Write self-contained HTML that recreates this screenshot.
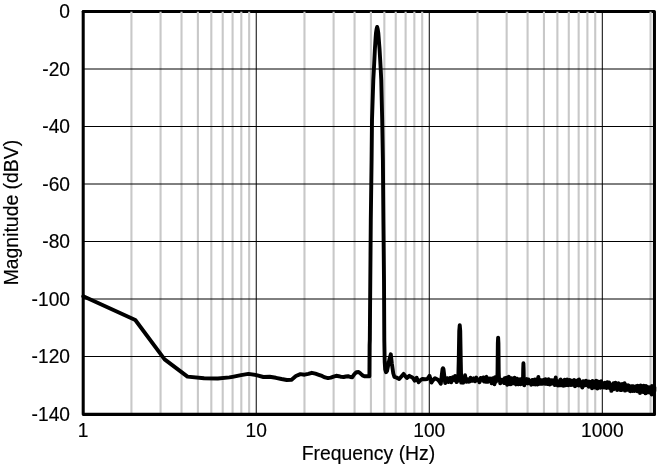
<!DOCTYPE html>
<html><head><meta charset="utf-8"><title>Magnitude vs Frequency</title>
<style>html,body{margin:0;padding:0;background:#fff;}body{width:657px;height:465px;overflow:hidden;}svg{display:block;}text{font-family:"Liberation Sans",sans-serif;font-size:19.4px;fill:#000;stroke:#000;stroke-width:0.16px;}</style></head><body>
<svg width="657" height="465" viewBox="0 0 657 465">
<rect x="0" y="0" width="657" height="465" fill="#fff"/>
<path d="M83.2 11.5H654.45V414.35" fill="none" stroke="#000" stroke-width="3.05" stroke-linejoin="round" stroke-linecap="round"/>
<path d="M131.43 11.70V414.00M160.57 11.70V414.00M181.52 11.70V414.00M197.88 11.70V414.00M211.31 11.70V414.00M222.70 11.70V414.00M232.59 11.70V414.00M241.32 11.70V414.00M249.15 11.70V414.00M304.47 11.70V414.00M333.61 11.70V414.00M354.56 11.70V414.00M370.92 11.70V414.00M384.35 11.70V414.00M395.74 11.70V414.00M405.62 11.70V414.00M414.36 11.70V414.00M422.19 11.70V414.00M477.51 11.70V414.00M506.65 11.70V414.00M527.59 11.70V414.00M543.96 11.70V414.00M557.38 11.70V414.00M568.77 11.70V414.00M578.66 11.70V414.00M587.40 11.70V414.00M595.22 11.70V414.00M650.55 11.70V414.00" stroke="#c8c8c8" stroke-width="2.1" fill="none"/>
<path d="M256.24 11.50V414.00M429.27 11.50V414.00M602.31 11.50V414.00M83.20 69.00H654.40M83.20 126.50H654.40M83.20 184.00H654.40M83.20 241.50H654.40M83.20 299.00H654.40M83.20 356.50H654.40" stroke="#000" stroke-width="1" fill="none"/>
<path d="M83.2 11.5V414.35H654.45" fill="none" stroke="#000" stroke-width="3.05" stroke-linejoin="round" stroke-linecap="round"/>
<path d="M83.30 296.30 L135.30 320.00 L164.60 359.40 L187.50 376.60 L204.10 378.30 L217.80 378.50 L229.40 377.40 L232.50 376.80 L241.00 375.10 L248.40 373.90 L256.40 375.10 L263.40 377.00 L269.70 376.80 L275.90 377.80 L281.50 379.00 L286.80 380.00 L291.30 379.90 L295.90 376.00 L300.40 374.10 L304.60 374.70 L308.30 373.90 L311.80 372.80 L315.40 373.70 L318.80 374.80 L322.00 375.90 L325.00 377.40 L328.00 378.10 L330.80 377.60 L333.60 376.60 L336.20 375.80 L338.80 376.20 L341.20 376.90 L343.60 377.00 L345.90 376.50 L348.10 376.20 L350.30 377.00 L352.30 377.20 L354.40 374.20 L356.40 372.20 L358.60 372.00 L360.60 373.60 L362.50 375.40 L364.30 376.20 L367.00 376.30 L369.40 376.20 L369.60 345.00 L369.80 340.00 L370.30 280.00 L370.80 220.00 L371.60 160.00 L372.00 120.00 L373.30 80.00 L373.85 70.00 L374.35 60.00 L374.90 49.00 L375.25 43.50 L375.60 38.00 L376.00 33.00 L376.55 29.30 L377.15 27.00 L377.75 29.30 L378.30 33.00 L378.70 38.00 L379.10 43.50 L379.55 49.00 L380.20 60.00 L380.75 70.00 L381.25 80.00 L382.20 120.00 L382.90 160.00 L383.40 220.00 L384.00 280.00 L384.30 340.00 L384.70 362.00 L385.20 369.50 L386.00 372.20 L387.00 371.00 L389.60 358.50 L390.80 354.30 L391.90 364.00 L393.30 373.50 L394.40 376.80 L396.80 377.70 L399.20 379.00 L401.40 376.50 L403.60 373.90 L405.30 376.20 L406.90 378.00 L409.40 375.80 L411.00 376.80 L412.70 377.70 L414.70 380.70 L416.60 377.70 L418.60 382.10 L420.50 380.20 L422.40 379.00 L424.80 379.30 L427.30 379.00 L429.50 375.80 L431.40 382.60 L433.20 380.00 L435.00 378.20 L437.90 379.70 L439.40 381.50 L440.80 383.80 L441.70 376.00 L442.50 369.20 L443.00 368.30 L443.50 369.20 L444.30 376.00 L445.20 383.10 L446.60 380.50 L448.10 378.70 L446.04 381.70 L446.64 379.72 L447.24 378.15 L447.83 380.11 L448.41 382.02 L448.99 380.57 L449.57 379.27 L450.14 377.90 L450.70 381.20 L451.27 382.33 L451.83 379.47 L452.38 378.99 L452.93 377.17 L453.48 377.51 L454.02 379.35 L454.56 380.19 L455.09 375.91 L455.63 379.20 L456.15 380.98 L456.68 382.08 L457.20 380.46 L457.71 379.90 L458.23 380.52 L458.74 359.70 L459.24 330.95 L459.74 325.20 L460.24 330.95 L460.74 359.70 L461.23 382.61 L461.72 379.73 L462.21 382.23 L462.69 381.01 L463.17 382.71 L463.65 380.90 L464.12 381.59 L464.59 380.24 L465.06 375.26 L465.53 378.77 L465.99 378.43 L466.45 381.74 L466.91 381.11 L467.36 379.43 L467.81 380.13 L468.26 379.61 L468.71 379.89 L469.15 381.72 L469.59 379.81 L470.03 381.40 L470.46 377.68 L470.90 380.29 L471.33 379.22 L471.76 379.97 L472.18 378.72 L472.61 380.78 L473.03 378.90 L473.45 380.10 L473.86 378.30 L474.28 378.77 L474.69 379.67 L475.10 381.38 L475.50 379.49 L475.91 379.39 L476.31 377.54 L476.71 380.14 L477.11 379.47 L477.51 379.35 L477.90 379.67 L478.30 379.89 L478.69 380.00 L479.07 381.25 L479.46 382.28 L479.84 381.63 L480.23 379.92 L480.61 377.98 L480.99 378.24 L481.36 378.20 L481.74 378.62 L482.11 378.88 L482.48 379.75 L482.85 379.11 L483.22 377.38 L483.58 380.11 L483.95 381.50 L484.31 377.83 L484.67 379.37 L485.03 378.72 L485.39 378.69 L485.74 381.77 L486.10 377.21 L486.45 376.86 L486.80 379.22 L487.15 379.05 L487.49 379.96 L487.84 381.79 L488.18 381.16 L488.53 380.23 L488.87 378.82 L489.21 379.02 L489.54 380.09 L489.88 378.42 L490.21 381.17 L490.55 379.62 L490.88 378.67 L491.21 380.54 L491.54 383.40 L491.87 382.91 L492.19 381.02 L492.52 380.01 L492.84 378.15 L493.16 381.50 L493.48 380.97 L493.80 379.83 L494.12 380.72 L494.44 384.36 L494.75 380.62 L495.06 377.21 L495.38 378.18 L495.69 381.40 L496.00 381.61 L496.31 380.71 L496.61 376.99 L496.92 378.73 L497.22 380.02 L497.53 372.10 L497.83 343.35 L498.13 337.60 L498.43 343.35 L498.73 372.10 L499.03 379.99 L499.32 378.44 L499.62 379.15 L499.91 379.90 L500.21 383.34 L500.50 382.70 L500.79 382.36 L501.08 382.14 L501.37 380.39 L501.66 381.26 L501.94 379.82 L502.23 380.46 L502.51 381.29 L502.79 380.86 L503.08 380.26 L503.36 379.44 L503.64 381.21 L503.92 381.38 L504.19 383.14 L504.47 379.20 L504.75 378.25 L505.02 380.42 L505.29 381.53 L505.57 383.00 L505.84 381.34 L506.11 380.79 L506.38 377.66 L506.65 379.63 L506.92 381.76 L507.18 384.91 L507.45 380.07 L507.71 380.45 L507.98 383.27 L508.24 381.43 L508.50 383.57 L508.77 376.59 L509.03 378.03 L509.29 379.29 L509.54 380.79 L509.80 384.18 L510.06 382.19 L510.32 383.73 L510.57 380.98 L510.82 384.25 L511.08 383.39 L511.33 379.96 L511.58 378.30 L511.83 382.03 L512.08 383.67 L512.33 380.57 L512.58 379.68 L512.83 382.16 L513.08 382.47 L513.32 382.57 L513.57 383.34 L513.81 382.81 L514.05 379.78 L514.30 379.71 L514.54 377.66 L514.78 380.24 L515.02 381.09 L515.26 382.60 L515.50 381.79 L515.74 383.31 L515.98 384.46 L516.21 381.13 L516.45 379.04 L516.68 379.31 L516.92 378.66 L517.15 380.07 L517.38 381.93 L517.62 381.30 L517.85 381.80 L518.08 383.04 L518.31 384.28 L518.54 384.34 L518.77 382.18 L519.00 381.30 L519.22 381.96 L519.45 379.35 L519.68 380.42 L519.90 380.15 L520.13 379.13 L520.35 381.84 L520.57 384.35 L520.80 381.09 L521.02 382.24 L521.24 379.64 L521.46 380.30 L521.68 379.51 L521.90 379.63 L522.12 383.87 L522.34 381.01 L522.55 382.21 L522.77 382.70 L522.99 382.37 L523.20 369.05 L523.42 363.30 L523.63 369.05 L523.85 383.19 L524.06 382.76 L524.27 385.26 L524.48 382.67 L524.70 380.87 L524.91 382.33 L525.12 381.29 L525.33 381.00 L525.53 379.78 L525.74 382.10 L525.95 382.81 L526.16 382.93 L526.37 379.28 L526.57 379.16 L526.78 380.90 L526.98 380.92 L527.19 381.09 L527.39 381.01 L527.59 381.59 L527.80 381.96 L528.00 383.42 L528.20 382.96 L528.40 379.47 L528.60 380.06 L528.80 380.92 L529.00 381.60 L529.20 381.39 L529.40 380.91 L529.60 382.23 L529.80 381.40 L529.99 381.09 L530.19 382.44 L530.38 382.91 L530.58 383.35 L530.78 383.59 L530.97 380.81 L531.16 384.72 L531.36 382.84 L531.55 382.78 L531.74 382.78 L531.93 381.74 L532.13 379.93 L532.32 380.92 L532.51 381.53 L532.70 382.40 L532.89 381.97 L533.08 380.32 L533.26 381.74 L533.45 383.26 L533.64 383.89 L533.83 383.86 L534.01 384.26 L534.20 380.77 L534.39 380.81 L534.57 381.69 L534.76 379.49 L534.94 381.91 L535.12 380.60 L535.31 380.14 L535.49 383.41 L535.67 384.41 L535.86 383.80 L536.04 380.97 L536.22 379.56 L536.40 382.80 L536.58 380.48 L536.76 381.86 L536.94 382.29 L537.12 382.66 L537.30 382.44 L537.48 384.54 L537.65 383.99 L537.83 384.17 L538.01 381.74 L538.18 378.70 L538.36 376.87 L538.54 380.75 L538.71 383.93 L538.89 382.98 L539.06 383.47 L539.24 379.41 L539.41 380.23 L539.58 382.36 L539.76 380.60 L539.93 380.65 L540.10 383.79 L540.27 383.16 L540.44 382.55 L540.61 382.00 L540.79 381.68 L540.96 382.27 L541.13 381.69 L541.29 382.63 L541.46 383.37 L541.63 380.12 L541.80 380.82 L541.97 380.92 L542.14 383.87 L542.30 382.71 L542.47 380.95 L542.64 383.46 L542.80 380.78 L542.97 382.12 L543.13 381.39 L543.30 381.95 L543.46 381.61 L543.63 380.10 L543.79 381.96 L543.96 379.70 L544.12 382.39 L544.28 383.42 L544.44 381.37 L544.61 383.31 L544.77 382.90 L544.93 380.95 L545.09 379.94 L545.25 383.91 L545.41 381.84 L545.57 379.26 L545.73 379.47 L545.89 381.59 L546.05 382.75 L546.21 382.67 L546.37 383.87 L546.52 382.96 L546.68 382.59 L546.84 382.42 L547.00 380.47 L547.15 381.91 L547.31 384.10 L547.47 381.18 L547.62 383.34 L547.78 383.10 L547.93 382.58 L548.09 382.73 L548.24 383.72 L548.40 382.95 L548.55 379.25 L548.70 382.12 L548.86 382.32 L549.01 380.59 L549.16 380.61 L549.31 380.60 L549.47 380.46 L549.62 384.45 L549.77 384.08 L549.92 382.56 L550.07 381.58 L550.22 380.16 L550.37 380.91 L550.52 382.14 L550.67 382.12 L550.82 382.48 L550.97 381.94 L551.12 381.17 L551.27 382.39 L551.41 383.43 L551.56 383.81 L551.71 381.15 L551.86 380.09 L552.00 380.19 L552.15 380.42 L552.30 380.52 L552.44 381.75 L552.59 381.17 L552.73 383.44 L552.88 382.92 L553.02 383.52 L553.17 381.63 L553.31 382.92 L553.46 382.64 L553.60 381.84 L553.74 380.25 L553.89 382.82 L554.03 383.81 L554.17 381.62 L554.32 383.69 L554.46 382.11 L554.60 383.08 L554.74 382.72 L554.88 385.04 L555.02 382.16 L555.17 383.01 L555.31 383.84 L555.45 379.88 L555.59 380.63 L555.73 377.50 L555.87 380.35 L556.00 382.28 L556.14 382.22 L556.28 380.09 L556.42 381.76 L556.56 381.59 L556.70 381.45 L556.84 383.42 L556.97 382.55 L557.11 383.19 L557.25 384.43 L557.38 381.82 L557.52 381.33 L557.66 382.02 L557.79 383.62 L557.93 385.65 L558.06 382.75 L558.20 382.70 L558.33 384.93 L558.47 383.31 L558.60 384.89 L558.74 383.26 L558.87 382.54 L559.01 382.02 L559.14 382.07 L559.27 382.15 L559.41 384.02 L559.54 383.52 L559.67 383.56 L559.80 383.18 L559.94 382.36 L560.07 381.63 L560.20 379.99 L560.33 385.41 L560.46 382.86 L560.59 382.94 L560.72 379.50 L560.85 380.35 L560.99 384.24 L561.12 382.53 L561.25 383.31 L561.38 381.43 L561.50 383.74 L561.63 383.10 L561.76 382.95 L561.89 382.86 L562.02 383.52 L562.15 385.48 L562.28 382.85 L562.40 381.31 L562.53 382.35 L562.66 383.99 L562.79 382.78 L562.91 381.91 L563.04 382.69 L563.17 382.70 L563.29 380.72 L563.42 383.66 L563.55 383.77 L563.67 385.69 L563.80 384.58 L563.92 384.30 L564.05 384.53 L564.17 384.23 L564.30 380.66 L564.42 382.38 L564.55 382.79 L564.67 379.68 L564.79 381.91 L564.92 384.92 L565.04 382.84 L565.16 384.09 L565.29 380.87 L565.41 383.94 L565.53 383.93 L565.66 385.36 L565.78 383.42 L565.90 384.39 L566.02 383.36 L566.14 383.49 L566.27 383.86 L566.39 381.81 L566.51 381.20 L566.63 382.24 L566.75 383.90 L566.87 384.64 L566.99 383.00 L567.11 379.55 L567.23 382.49 L567.35 383.83 L567.47 384.11 L567.59 384.75 L567.71 384.78 L567.83 383.72 L567.95 381.13 L568.06 382.35 L568.18 383.43 L568.30 385.29 L568.42 383.31 L568.54 383.05 L568.66 384.65 L568.77 384.93 L568.89 383.57 L569.01 381.70 L569.12 381.68 L569.24 382.26 L569.36 383.17 L569.47 382.55 L569.59 382.83 L569.71 379.89 L569.82 383.59 L569.94 383.65 L570.05 381.40 L570.17 382.85 L570.28 380.95 L570.40 382.42 L570.51 382.60 L570.63 383.37 L570.74 385.01 L570.86 384.93 L570.97 380.50 L571.09 381.35 L571.20 381.66 L571.31 381.27 L571.43 381.69 L571.54 381.20 L571.65 382.83 L571.77 383.27 L571.88 381.73 L571.99 383.12 L572.10 384.90 L572.22 383.90 L572.33 384.05 L572.44 382.49 L572.55 383.88 L572.66 384.76 L572.77 384.03 L572.89 381.20 L573.00 382.57 L573.11 382.69 L573.22 382.94 L573.33 382.63 L573.44 381.66 L573.55 380.73 L573.66 384.65 L573.77 381.68 L573.88 382.68 L573.99 383.42 L574.10 379.89 L574.21 382.38 L574.32 380.21 L574.43 380.91 L574.53 383.88 L574.64 382.68 L574.75 381.98 L574.86 382.96 L574.97 386.29 L575.08 384.56 L575.18 383.83 L575.29 384.88 L575.40 381.16 L575.51 382.89 L575.61 383.62 L575.72 383.72 L575.83 384.41 L575.94 384.62 L576.04 383.48 L576.15 382.84 L576.25 383.78 L576.36 383.49 L576.47 385.20 L576.57 383.08 L576.68 384.20 L576.78 383.21 L576.89 384.46 L577.00 384.30 L577.10 383.25 L577.21 384.90 L577.31 380.33 L577.41 382.41 L577.52 383.09 L577.62 384.20 L577.73 381.34 L577.83 380.77 L577.94 382.10 L578.04 384.79 L578.14 384.41 L578.25 382.76 L578.35 383.82 L578.45 385.06 L578.56 385.44 L578.66 384.99 L578.76 383.78 L578.87 384.33 L578.97 383.58 L579.07 379.55 L579.17 379.74 L579.28 383.66 L579.38 382.94 L579.48 383.08 L579.58 383.44 L579.68 381.93 L579.78 383.36 L579.89 383.78 L579.99 383.98 L580.09 383.67 L580.19 381.68 L580.29 381.78 L580.39 384.71 L580.49 384.37 L580.59 384.75 L580.69 382.66 L580.79 382.84 L580.89 381.99 L580.99 383.04 L581.09 385.89 L581.19 383.51 L581.29 383.11 L581.39 382.61 L581.49 384.94 L581.59 383.75 L581.69 384.44 L581.79 384.65 L581.88 383.30 L581.98 382.89 L582.08 384.48 L582.18 386.07 L582.28 387.60 L582.38 385.46 L582.47 382.51 L582.57 383.23 L582.67 386.45 L582.77 385.52 L582.86 383.49 L582.96 381.18 L583.06 381.18 L583.16 382.27 L583.25 382.83 L583.35 384.72 L583.45 384.46 L583.54 384.22 L583.64 384.75 L583.74 383.77 L583.83 384.10 L583.93 383.21 L584.02 381.45 L584.12 381.87 L584.21 382.44 L584.31 383.51 L584.41 385.58 L584.50 384.28 L584.60 383.00 L584.69 384.73 L584.79 382.18 L584.88 383.57 L584.98 383.03 L585.07 383.83 L585.17 385.34 L585.26 381.27 L585.35 384.45 L585.45 382.58 L585.54 384.03 L585.64 383.34 L585.73 384.61 L585.82 384.47 L585.92 382.61 L586.01 380.67 L586.10 383.88 L586.20 383.69 L586.29 382.36 L586.38 384.12 L586.48 382.82 L586.57 384.47 L586.66 383.09 L586.75 382.90 L586.85 381.80 L586.94 382.63 L587.03 385.00 L587.12 383.19 L587.21 385.05 L587.31 383.10 L587.40 381.49 L587.49 382.25 L587.58 384.05 L587.67 382.22 L587.76 383.07 L587.85 385.24 L587.95 384.69 L588.04 382.13 L588.13 383.70 L588.22 383.60 L588.31 384.21 L588.40 386.21 L588.49 385.23 L588.58 383.76 L588.67 383.53 L588.76 383.98 L588.85 386.78 L588.94 383.08 L589.03 382.65 L589.12 382.12 L589.21 381.59 L589.30 383.80 L589.39 384.68 L589.48 383.71 L589.57 381.58 L589.65 385.49 L589.74 384.70 L589.83 385.13 L589.92 383.54 L590.01 381.84 L590.10 383.72 L590.19 385.56 L590.27 384.38 L590.36 384.48 L590.45 386.22 L590.54 383.46 L590.63 384.54 L590.71 383.24 L590.80 385.56 L590.89 383.00 L590.98 385.66 L591.06 383.10 L591.15 386.20 L591.24 382.83 L591.33 384.19 L591.41 386.20 L591.50 385.02 L591.59 383.90 L591.67 385.36 L591.76 385.14 L591.85 384.05 L591.93 384.31 L592.02 388.30 L592.10 385.95 L592.19 384.10 L592.28 383.72 L592.36 382.65 L592.45 384.63 L592.53 380.86 L592.62 382.09 L592.70 383.12 L592.79 382.40 L592.87 382.36 L592.96 383.50 L593.04 384.82 L593.13 383.01 L593.21 383.28 L593.30 386.48 L593.38 386.39 L593.47 384.25 L593.55 384.10 L593.64 383.82 L593.72 383.26 L593.81 383.76 L593.89 381.99 L593.97 384.38 L594.06 384.85 L594.14 384.02 L594.23 383.21 L594.31 382.91 L594.39 381.89 L594.48 384.23 L594.56 382.73 L594.64 383.22 L594.73 385.40 L594.81 384.84 L594.89 381.70 L594.98 382.50 L595.06 384.44 L595.14 387.61 L595.22 386.33 L595.31 385.91 L595.39 384.74 L595.47 381.40 L595.55 382.50 L595.64 383.42 L595.72 385.37 L595.80 386.30 L595.88 385.27 L595.96 385.31 L596.04 380.67 L596.13 383.86 L596.21 385.10 L596.29 383.14 L596.37 383.97 L596.45 385.98 L596.53 383.21 L596.61 384.52 L596.70 386.29 L596.78 384.61 L596.86 383.89 L596.94 384.78 L597.02 383.67 L597.10 383.17 L597.18 385.31 L597.26 387.53 L597.34 388.65 L597.42 385.96 L597.50 383.34 L597.58 382.86 L597.66 382.20 L597.74 381.39 L597.82 383.61 L597.90 382.89 L597.98 386.14 L598.06 384.15 L598.14 383.95 L598.22 384.55 L598.30 385.20 L598.38 386.30 L598.46 384.95 L598.54 383.03 L598.61 384.66 L598.69 383.95 L598.77 385.34 L598.85 384.54 L598.93 385.99 L599.01 384.57 L599.09 384.95 L599.16 384.36 L599.24 385.41 L599.32 386.50 L599.40 385.69 L599.48 383.64 L599.56 382.30 L599.63 384.44 L599.71 383.59 L599.79 383.39 L599.87 383.83 L599.94 386.56 L600.02 384.88 L600.10 386.10 L600.18 383.61 L600.25 383.39 L600.33 383.55 L600.41 387.81 L600.49 384.88 L600.56 383.91 L600.64 386.25 L600.72 383.97 L600.79 384.48 L600.87 384.98 L600.95 385.84 L601.02 386.51 L601.10 385.94 L601.17 381.08 L601.25 383.47 L601.33 384.18 L601.40 385.54 L601.48 385.91 L601.56 385.94 L601.63 386.40 L601.71 384.19 L601.78 385.06 L601.86 383.82 L601.93 386.14 L602.01 384.06 L602.08 384.72 L602.16 383.99 L602.24 384.81 L602.31 386.10 L602.39 383.70 L602.46 385.18 L602.54 385.24 L602.61 386.25 L602.69 385.11 L602.76 385.56 L602.83 384.81 L602.91 384.51 L602.98 385.80 L603.06 387.15 L603.13 385.11 L603.21 383.86 L603.28 383.79 L603.36 386.22 L603.43 384.63 L603.50 384.45 L603.58 384.54 L603.65 384.37 L603.73 385.33 L603.80 384.91 L603.87 383.84 L603.95 385.43 L604.02 387.15 L604.09 385.90 L604.17 385.14 L604.24 387.62 L604.31 386.82 L604.39 384.91 L604.46 385.32 L604.53 385.13 L604.60 386.87 L604.68 384.52 L604.75 382.70 L604.82 384.75 L604.90 386.08 L604.97 387.05 L605.04 384.63 L605.11 384.95 L605.19 386.24 L605.26 383.98 L605.33 383.90 L605.40 384.09 L605.47 387.29 L605.55 386.06 L605.62 384.73 L605.69 386.79 L605.76 384.56 L605.83 383.23 L605.91 383.37 L605.98 385.73 L606.05 386.43 L606.12 384.46 L606.19 383.81 L606.26 383.31 L606.33 383.20 L606.41 384.90 L606.48 385.82 L606.55 388.01 L606.62 385.19 L606.69 382.37 L606.76 385.16 L606.83 386.01 L606.90 384.79 L606.97 384.79 L607.04 387.10 L607.11 386.93 L607.18 387.40 L607.25 383.42 L607.32 385.85 L607.40 384.51 L607.47 382.71 L607.54 382.21 L607.61 382.68 L607.68 382.56 L607.75 386.31 L607.82 386.27 L607.89 386.76 L607.95 386.34 L608.02 382.38 L608.09 386.87 L608.16 385.27 L608.23 387.16 L608.30 384.34 L608.37 383.55 L608.44 385.71 L608.51 382.95 L608.58 384.76 L608.65 383.69 L608.72 384.69 L608.79 386.14 L608.86 386.34 L608.92 386.06 L608.99 385.02 L609.06 385.35 L609.13 382.52 L609.20 385.04 L609.27 386.16 L609.34 386.83 L609.40 387.12 L609.47 388.08 L609.54 387.78 L609.61 385.20 L609.68 385.55 L609.75 385.96 L609.81 385.40 L609.88 384.30 L609.95 384.57 L610.02 384.44 L610.09 386.17 L610.15 386.30 L610.22 387.02 L610.29 386.35 L610.36 387.10 L610.42 386.74 L610.49 386.38 L610.56 386.33 L610.63 386.39 L610.69 386.71 L610.76 384.44 L610.83 385.94 L610.89 387.27 L610.96 386.10 L611.03 387.43 L611.10 387.82 L611.16 386.42 L611.23 388.30 L611.30 390.88 L611.36 387.08 L611.43 384.97 L611.50 387.90 L611.56 387.76 L611.63 385.79 L611.69 388.57 L611.76 387.95 L611.83 388.20 L611.89 386.96 L611.96 388.93 L612.03 385.76 L612.09 386.17 L612.16 385.72 L612.22 386.41 L612.29 388.98 L612.35 387.17 L612.42 388.19 L612.49 386.73 L612.55 387.43 L612.62 386.95 L612.68 386.67 L612.75 385.30 L612.81 384.90 L612.88 387.11 L612.94 386.48 L613.01 384.36 L613.07 385.00 L613.14 386.80 L613.20 386.54 L613.27 386.77 L613.33 385.16 L613.40 385.87 L613.46 385.64 L613.53 383.17 L613.59 387.13 L613.66 387.85 L613.72 389.01 L613.79 389.18 L613.85 386.03 L613.92 385.83 L613.98 384.02 L614.05 388.21 L614.11 388.03 L614.17 384.95 L614.24 384.57 L614.30 384.65 L614.37 384.69 L614.43 385.81 L614.49 386.21 L614.56 386.28 L614.62 385.24 L614.69 386.25 L614.75 385.93 L614.81 384.35 L614.88 387.26 L614.94 387.64 L615.00 386.05 L615.07 386.65 L615.13 386.70 L615.19 383.78 L615.26 385.10 L615.32 386.59 L615.38 385.06 L615.45 382.76 L615.51 386.81 L615.57 387.45 L615.64 386.63 L615.70 387.36 L615.76 383.93 L615.82 385.05 L615.89 386.60 L615.95 385.90 L616.01 387.38 L616.07 387.58 L616.14 386.72 L616.20 383.49 L616.26 388.57 L616.32 386.62 L616.39 384.83 L616.45 385.09 L616.51 383.63 L616.57 385.12 L616.64 385.97 L616.70 386.59 L616.76 387.72 L616.82 384.82 L616.88 387.63 L616.95 387.10 L617.01 387.46 L617.07 387.92 L617.13 389.93 L617.19 388.14 L617.25 386.94 L617.32 386.57 L617.38 385.55 L617.44 386.56 L617.50 387.49 L617.56 386.54 L617.62 385.80 L617.68 387.62 L617.75 388.97 L617.81 388.74 L617.87 385.97 L617.93 385.21 L617.99 387.45 L618.05 386.82 L618.11 385.69 L618.17 384.72 L618.23 387.02 L618.29 387.17 L618.35 385.08 L618.42 383.15 L618.48 383.72 L618.54 387.37 L618.60 386.41 L618.66 387.09 L618.72 386.99 L618.78 387.75 L618.84 387.75 L618.90 387.14 L618.96 384.61 L619.02 385.28 L619.08 385.85 L619.14 386.54 L619.20 387.76 L619.26 387.46 L619.32 385.46 L619.38 385.40 L619.44 383.91 L619.50 385.69 L619.56 386.59 L619.62 388.94 L619.68 387.03 L619.74 389.22 L619.80 385.66 L619.86 387.39 L619.92 387.10 L619.98 388.77 L620.04 388.17 L620.09 388.56 L620.15 386.00 L620.21 386.39 L620.27 388.36 L620.33 389.93 L620.39 387.99 L620.45 387.95 L620.51 388.76 L620.57 386.80 L620.63 387.22 L620.69 386.97 L620.74 387.81 L620.80 388.04 L620.86 387.97 L620.92 389.43 L620.98 386.98 L621.04 386.55 L621.10 389.17 L621.15 387.60 L621.21 385.77 L621.27 386.42 L621.33 385.24 L621.39 386.92 L621.45 387.08 L621.51 388.82 L621.56 388.83 L621.62 390.03 L621.68 389.19 L621.74 387.47 L621.80 386.60 L621.85 385.51 L621.91 386.53 L621.97 388.29 L622.03 386.98 L622.08 387.34 L622.14 384.95 L622.20 384.02 L622.26 385.03 L622.32 388.06 L622.37 388.18 L622.43 387.29 L622.49 388.20 L622.55 386.88 L622.60 386.27 L622.66 385.90 L622.72 386.58 L622.77 388.23 L622.83 388.67 L622.89 387.88 L622.95 385.77 L623.00 384.83 L623.06 385.32 L623.12 386.27 L623.17 386.15 L623.23 385.93 L623.29 385.26 L623.35 385.63 L623.40 388.83 L623.46 386.59 L623.52 386.65 L623.57 387.76 L623.63 386.83 L623.69 386.86 L623.74 387.32 L623.80 389.57 L623.85 387.93 L623.91 386.86 L623.97 387.33 L624.02 389.46 L624.08 387.46 L624.14 386.53 L624.19 386.95 L624.25 386.77 L624.30 387.72 L624.36 388.40 L624.42 387.09 L624.47 387.83 L624.53 387.37 L624.58 383.27 L624.64 385.32 L624.70 386.69 L624.75 389.37 L624.81 387.96 L624.86 386.69 L624.92 388.20 L624.97 388.05 L625.03 390.61 L625.09 387.77 L625.14 388.40 L625.20 386.94 L625.25 385.64 L625.31 387.21 L625.36 386.21 L625.42 386.86 L625.47 387.65 L625.53 387.99 L625.58 388.83 L625.64 386.34 L625.69 386.11 L625.75 388.48 L625.80 386.81 L625.86 388.34 L625.91 389.80 L625.97 386.76 L626.02 389.05 L626.08 386.57 L626.13 387.09 L626.19 386.35 L626.24 386.64 L626.30 385.90 L626.35 386.72 L626.41 386.67 L626.46 387.09 L626.51 386.13 L626.57 387.76 L626.62 386.44 L626.68 385.42 L626.73 387.14 L626.79 387.01 L626.84 388.20 L626.90 388.27 L626.95 387.59 L627.00 388.17 L627.06 389.04 L627.11 388.21 L627.17 387.68 L627.22 387.36 L627.27 386.77 L627.33 389.78 L627.38 386.60 L627.44 387.69 L627.49 388.79 L627.54 388.61 L627.60 387.51 L627.65 386.64 L627.70 387.97 L627.76 387.70 L627.81 389.87 L627.86 388.26 L627.92 388.15 L627.97 388.52 L628.02 386.95 L628.08 385.32 L628.13 385.81 L628.18 388.29 L628.24 386.08 L628.29 387.80 L628.34 387.95 L628.40 388.69 L628.45 387.59 L628.50 387.14 L628.56 387.53 L628.61 388.11 L628.66 388.20 L628.72 388.56 L628.77 386.91 L628.82 388.34 L628.87 388.29 L628.93 388.36 L628.98 389.07 L629.03 388.63 L629.08 390.08 L629.14 388.12 L629.19 387.37 L629.24 388.22 L629.29 386.11 L629.35 388.52 L629.40 387.49 L629.45 387.28 L629.50 388.52 L629.56 388.52 L629.61 387.08 L629.66 387.71 L629.71 387.62 L629.77 386.17 L629.82 387.25 L629.87 389.99 L629.92 389.62 L629.97 387.51 L630.03 388.11 L630.08 389.50 L630.13 391.07 L630.18 388.61 L630.23 386.37 L630.29 389.21 L630.34 391.23 L630.39 388.45 L630.44 388.94 L630.49 388.77 L630.54 388.76 L630.60 389.50 L630.65 388.02 L630.70 386.97 L630.75 387.36 L630.80 388.65 L630.85 387.01 L630.90 387.99 L630.96 387.40 L631.01 389.16 L631.06 387.66 L631.11 387.11 L631.16 386.25 L631.21 387.60 L631.26 387.48 L631.31 388.74 L631.36 387.27 L631.42 386.97 L631.47 386.49 L631.52 388.21 L631.57 389.79 L631.62 388.81 L631.67 388.69 L631.72 389.34 L631.77 387.83 L631.82 386.94 L631.87 387.38 L631.92 386.61 L631.98 387.28 L632.03 389.22 L632.08 389.31 L632.13 389.05 L632.18 387.66 L632.23 386.95 L632.28 387.73 L632.33 386.86 L632.38 388.92 L632.43 388.65 L632.48 386.54 L632.53 387.24 L632.58 386.69 L632.63 390.22 L632.68 391.01 L632.73 390.24 L632.78 387.65 L632.83 386.10 L632.88 388.46 L632.93 389.63 L632.98 390.03 L633.03 389.99 L633.08 388.16 L633.13 388.71 L633.18 386.12 L633.23 386.80 L633.28 388.78 L633.33 388.22 L633.38 388.54 L633.43 387.46 L633.48 386.99 L633.53 388.42 L633.58 387.30 L633.63 387.37 L633.68 388.22 L633.73 388.05 L633.78 387.46 L633.83 388.55 L633.88 389.32 L633.92 387.12 L633.97 388.05 L634.02 389.08 L634.07 388.07 L634.12 390.19 L634.17 388.91 L634.22 390.31 L634.27 389.56 L634.32 391.03 L634.37 390.15 L634.42 387.87 L634.47 388.53 L634.51 390.02 L634.56 386.78 L634.61 388.77 L634.66 386.73 L634.71 388.63 L634.76 390.38 L634.81 386.77 L634.86 388.54 L634.90 387.58 L634.95 386.76 L635.00 389.64 L635.05 388.78 L635.10 389.33 L635.15 388.03 L635.20 388.41 L635.25 390.09 L635.29 388.94 L635.34 387.72 L635.39 388.68 L635.44 387.90 L635.49 389.03 L635.54 388.78 L635.58 388.21 L635.63 388.29 L635.68 386.92 L635.73 386.91 L635.78 387.04 L635.82 387.23 L635.87 388.00 L635.92 389.87 L635.97 387.67 L636.02 386.17 L636.06 387.60 L636.11 388.63 L636.16 388.67 L636.21 387.14 L636.26 387.83 L636.30 389.62 L636.35 389.15 L636.40 389.75 L636.45 389.23 L636.50 389.94 L636.54 390.13 L636.59 387.26 L636.64 386.94 L636.69 390.15 L636.73 390.33 L636.78 389.73 L636.83 389.48 L636.88 390.64 L636.92 388.17 L636.97 390.54 L637.02 388.39 L637.07 387.74 L637.11 388.87 L637.16 389.57 L637.21 388.89 L637.25 388.59 L637.30 391.28 L637.35 391.04 L637.40 388.76 L637.44 388.88 L637.49 389.29 L637.54 390.13 L637.58 390.03 L637.63 390.08 L637.68 385.69 L637.72 389.39 L637.77 387.05 L637.82 387.66 L637.87 388.17 L637.91 388.35 L637.96 389.12 L638.01 386.89 L638.05 387.58 L638.10 388.46 L638.15 388.84 L638.19 388.56 L638.24 390.14 L638.29 389.60 L638.33 389.81 L638.38 388.34 L638.43 387.93 L638.47 390.86 L638.52 389.71 L638.56 387.87 L638.61 390.14 L638.66 390.69 L638.70 388.15 L638.75 388.79 L638.80 389.39 L638.84 390.51 L638.89 389.14 L638.93 389.63 L638.98 388.83 L639.03 388.33 L639.07 387.84 L639.12 388.96 L639.17 389.55 L639.21 389.04 L639.26 389.05 L639.30 388.72 L639.35 389.49 L639.39 389.37 L639.44 389.76 L639.49 389.88 L639.53 389.01 L639.58 387.51 L639.62 389.15 L639.67 388.27 L639.72 388.30 L639.76 388.60 L639.81 387.99 L639.85 389.34 L639.90 388.36 L639.94 388.40 L639.99 393.09 L640.03 389.75 L640.08 388.45 L640.13 386.39 L640.17 389.50 L640.22 389.00 L640.26 388.54 L640.31 390.04 L640.35 387.81 L640.40 388.07 L640.44 389.69 L640.49 390.67 L640.53 390.01 L640.58 386.37 L640.62 385.55 L640.67 391.02 L640.71 391.85 L640.76 389.04 L640.80 389.15 L640.85 389.84 L640.89 388.52 L640.94 388.75 L640.98 388.59 L641.03 388.57 L641.07 390.24 L641.12 387.77 L641.16 389.23 L641.21 387.70 L641.25 387.79 L641.30 388.63 L641.34 388.75 L641.39 389.02 L641.43 391.32 L641.48 390.14 L641.52 388.86 L641.57 391.00 L641.61 391.49 L641.65 388.47 L641.70 387.90 L641.74 390.64 L641.79 388.99 L641.83 389.12 L641.88 387.90 L641.92 389.14 L641.97 389.39 L642.01 390.12 L642.05 389.20 L642.10 389.30 L642.14 389.98 L642.19 389.81 L642.23 390.27 L642.28 388.70 L642.32 390.28 L642.36 391.41 L642.41 391.02 L642.45 388.37 L642.50 389.55 L642.54 388.47 L642.58 388.05 L642.63 389.46 L642.67 388.32 L642.72 388.29 L642.76 388.96 L642.80 389.99 L642.85 389.50 L642.89 390.87 L642.93 390.03 L642.98 390.16 L643.02 388.95 L643.07 388.70 L643.11 389.85 L643.15 388.33 L643.20 387.47 L643.24 388.61 L643.28 389.95 L643.33 388.82 L643.37 392.13 L643.41 390.82 L643.46 388.99 L643.50 386.69 L643.54 389.39 L643.59 387.40 L643.63 385.81 L643.68 385.89 L643.72 391.17 L643.76 388.47 L643.80 388.79 L643.85 387.87 L643.89 389.07 L643.93 389.98 L643.98 389.77 L644.02 387.57 L644.06 387.73 L644.11 389.19 L644.15 388.79 L644.19 388.07 L644.24 388.23 L644.28 389.04 L644.32 390.04 L644.37 390.45 L644.41 390.20 L644.45 390.27 L644.49 391.56 L644.54 391.75 L644.58 388.97 L644.62 390.61 L644.67 391.35 L644.71 390.00 L644.75 387.75 L644.79 387.30 L644.84 389.25 L644.88 390.61 L644.92 390.40 L644.96 390.81 L645.01 390.48 L645.05 389.11 L645.09 390.62 L645.13 390.72 L645.18 390.11 L645.22 389.64 L645.26 390.42 L645.30 390.68 L645.35 391.19 L645.39 390.87 L645.43 389.19 L645.47 389.65 L645.52 393.35 L645.56 389.83 L645.60 389.63 L645.64 390.57 L645.68 390.09 L645.73 393.39 L645.77 392.68 L645.81 388.96 L645.85 386.64 L645.90 385.89 L645.94 389.29 L645.98 389.36 L646.02 388.45 L646.06 390.69 L646.11 387.66 L646.15 389.82 L646.19 389.14 L646.23 390.80 L646.27 389.42 L646.32 389.48 L646.36 388.13 L646.40 390.52 L646.44 389.81 L646.48 387.32 L646.52 390.33 L646.57 389.31 L646.61 388.90 L646.65 389.94 L646.69 389.97 L646.73 387.89 L646.77 387.61 L646.82 388.24 L646.86 388.81 L646.90 390.73 L646.94 389.78 L646.98 387.37 L647.02 387.58 L647.06 390.65 L647.11 392.46 L647.15 391.25 L647.19 389.86 L647.23 390.33 L647.27 390.18 L647.31 389.32 L647.35 388.37 L647.40 388.95 L647.44 387.82 L647.48 390.83 L647.52 389.37 L647.56 388.99 L647.60 391.27 L647.64 388.53 L647.68 391.27 L647.72 391.90 L647.77 386.96 L647.81 387.19 L647.85 388.41 L647.89 387.56 L647.93 387.56 L647.97 390.41 L648.01 389.25 L648.05 387.76 L648.09 389.27 L648.13 389.43 L648.17 390.15 L648.22 388.88 L648.26 390.10 L648.30 390.52 L648.34 391.44 L648.38 391.35 L648.42 389.89 L648.46 389.14 L648.50 389.99 L648.54 391.07 L648.58 389.67 L648.62 389.22 L648.66 387.95 L648.70 389.78 L648.74 390.23 L648.78 389.21 L648.83 387.64 L648.87 389.14 L648.91 389.63 L648.95 390.85 L648.99 390.52 L649.03 388.77 L649.07 388.36 L649.11 387.91 L649.15 391.23 L649.19 389.12 L649.23 390.70 L649.27 389.27 L649.31 392.56 L649.35 390.70 L649.39 391.13 L649.43 388.56 L649.47 389.24 L649.51 387.96 L649.55 389.76 L649.59 387.29 L649.63 389.57 L649.67 387.33 L649.71 389.64 L649.75 390.96 L649.79 389.00 L649.83 390.04 L649.87 389.93 L649.91 391.51 L649.95 390.73 L649.99 389.93 L650.03 390.71 L650.07 389.58 L650.11 392.61 L650.15 389.52 L650.19 390.23 L650.23 388.09 L650.27 389.73 L650.31 390.61 L650.35 390.62 L650.39 389.71 L650.43 389.04 L650.47 390.17 L650.51 390.93 L650.55 389.62 L650.58 388.73 L650.62 391.70 L650.66 391.71 L650.70 391.25 L650.74 388.12 L650.78 387.79 L650.82 388.23 L650.86 388.75 L650.90 390.93 L650.94 388.77 L650.98 390.10 L651.02 390.94 L651.06 387.76 L651.10 391.06 L651.14 388.50 L651.18 389.21 L651.21 390.84 L651.25 389.95 L651.29 390.97 L651.33 389.98 L651.37 390.73 L651.41 391.64 L651.45 387.09 L651.49 389.69 L651.53 388.61 L651.57 389.58 L651.61 388.97 L651.64 391.22 L651.68 391.62 L651.72 394.55 L651.76 390.06 L651.80 389.41 L651.84 391.26 L651.88 389.28 L651.92 389.00 L651.96 385.99 L651.99 388.46 L652.03 388.36 L652.07 388.70 L652.11 388.61 L652.15 389.59 L652.19 390.37 L652.23 389.20 L652.27 388.19 L652.30 390.90 L652.34 391.68 L652.38 390.54 L652.42 387.89 L652.46 389.62 L652.50 392.01 L652.54 389.58 L652.57 388.92 L652.61 387.24 L652.65 388.93 L652.69 387.21 L652.73 390.07 L652.77 388.90 L652.81 389.51 L652.84 391.36 L652.88 390.77 L652.92 388.58 L652.96 388.19 L653.00 389.95 L653.03 388.62 L653.07 388.48 L653.11 388.44 L653.15 389.20 L653.19 389.41 L653.23 390.89 L653.26 390.39 L653.30 390.00 L653.34 390.96 L653.38 390.69 L653.42 390.05 L653.45 389.79 L653.49 388.66 L653.53 390.94 L653.57 390.83 L653.61 389.97 L653.64 390.52 L653.68 389.80 L653.72 390.59 L653.76 388.76 L653.80 389.98 L653.83 391.49 L653.87 389.58 L653.91 387.86 L653.95 391.85 L653.99 390.79 L654.02 390.23 L654.06 388.86 L654.10 387.87 L654.14 389.64 L654.17 391.93 L654.21 389.83 L654.25 388.78 L654.29 389.14 L654.32 389.73 L654.36 391.02 L654.40 387.35" stroke="#000" stroke-width="3.9" fill="none" stroke-linejoin="round" stroke-linecap="round"/>
<text transform="translate(70.00,18.10) scale(1.0,1.045)" text-anchor="end" style="font-size:19.2px">0</text>
<text transform="translate(70.00,75.60) scale(1.0,1.045)" text-anchor="end" style="font-size:19.2px">-20</text>
<text transform="translate(70.00,133.10) scale(1.0,1.045)" text-anchor="end" style="font-size:19.2px">-40</text>
<text transform="translate(70.00,190.60) scale(1.0,1.045)" text-anchor="end" style="font-size:19.2px">-60</text>
<text transform="translate(70.00,248.10) scale(1.0,1.045)" text-anchor="end" style="font-size:19.2px">-80</text>
<text transform="translate(70.00,305.60) scale(1.0,1.045)" text-anchor="end" style="font-size:19.2px">-100</text>
<text transform="translate(70.00,363.10) scale(1.0,1.045)" text-anchor="end" style="font-size:19.2px">-120</text>
<text transform="translate(70.00,420.60) scale(1.0,1.045)" text-anchor="end" style="font-size:19.2px">-140</text>
<text transform="translate(83.20,437.15) scale(1.0,1.045)" text-anchor="middle" style="font-size:19.2px">1</text>
<text transform="translate(256.24,437.15) scale(1.0,1.045)" text-anchor="middle" style="font-size:19.2px">10</text>
<text transform="translate(429.27,437.15) scale(1.0,1.045)" text-anchor="middle" style="font-size:19.2px">100</text>
<text transform="translate(602.31,437.15) scale(1.0,1.045)" text-anchor="middle" style="font-size:19.2px">1000</text>
<text transform="translate(368.45,459.90) scale(1.0,1.035)" text-anchor="middle">Frequency (Hz)</text>
<text transform="translate(17.60,212.60) rotate(-90) scale(1.0,1.035)" text-anchor="middle">Magnitude (dBV)</text>
</svg></body></html>
